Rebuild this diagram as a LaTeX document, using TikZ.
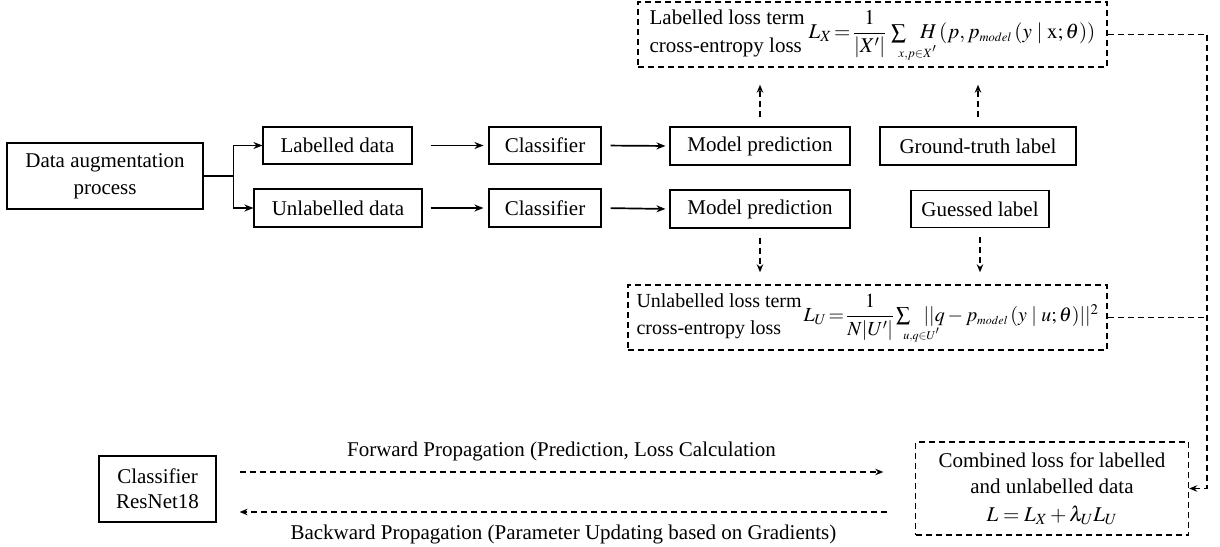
\documentclass[tikz,border=0pt]{standalone}
\usepackage{mathtools}
\usepackage{graphicx}
\usepackage{mathptmx}
\usepackage{fontspec}
\setmainfont{Liberation Serif}
\usetikzlibrary{arrows.meta,calc}
\begin{document}
\begin{tikzpicture}[x=1pt,y=-1pt,
  font=\fontsize{21}{25}\selectfont,
  box/.style={draw,line width=1.1pt,inner sep=0pt,align=center},
  dbox/.style={draw,line width=1.4pt,dash pattern=on 6pt off 4pt,inner sep=0pt},
  arr/.style={line width=1.7pt,-{Stealth[length=9pt,width=7pt]}},
  darr/.style={line width=1.5pt,dash pattern=on 6pt off 4pt,-{Stealth[length=8pt,width=6.5pt]}},
  dline/.style={line width=1.5pt,dash pattern=on 6pt off 4pt},
  lbl/.style={inner sep=0pt,anchor=base}]
\useasboundingbox (0,0) rectangle (1220,546);

% solid boxes
\node[box,minimum width=196pt,minimum height=66pt] (da) at (105,176) {Data augmentation\\[2pt]process};
\node[box,minimum width=149pt,minimum height=37pt] (lab) at (337.5,145.5) {Labelled data};
\node[box,minimum width=168pt,minimum height=38pt] (unl) at (338,208) {Unlabelled data};
\node[box,minimum width=112pt,minimum height=37pt] (cls1) at (545,145.5) {Classifier};
\node[box,minimum width=112pt,minimum height=38pt] (cls2) at (545,208) {Classifier};
\node[box,minimum width=180pt,minimum height=38pt] (mp1) at (760,146) {Model prediction};
\node[box,minimum width=180pt,minimum height=38pt] (mp2) at (760,209) {Model prediction};
\node[box,minimum width=196pt,minimum height=38pt] (gt) at (978,146) {Ground-truth label};
\node[box,minimum width=138pt,minimum height=37pt] (gs) at (980,209) {Guessed label};
\node[box,minimum width=117pt,minimum height=66pt] (res) at (157.5,489) {Classifier\\ResNet18};

% dashed loss boxes
\node[dbox,minimum width=469pt,text height=36.5pt,text depth=28.5pt] (top) at (872.5,34.5)
  {\begin{tabular}{@{}l@{}}Labelled loss term\\[3pt]cross-entropy loss\end{tabular}\hspace{4pt}%
   $L_X\!=\!\dfrac{1}{|X'|}\,\sum\limits_{\mathrlap{\scriptscriptstyle x,p\in X'}}\mkern10mu H\,(p,p_{\scriptscriptstyle model}\,(y\mid\mathrm{x};\theta))$};
\node[dbox,minimum width=479pt,text height=36.5pt,text depth=28.5pt] (low) at (867.5,317.5)
  {\scalebox{0.95}{\begin{tabular}{@{}l@{}}Unlabelled loss term\\[3pt]cross-entropy loss\end{tabular}\hspace{2pt}%
   $L_U\!=\!\dfrac{1}{N|U'|}\sum\limits_{\mathrlap{\scriptscriptstyle u,q\in U'}}\mkern10mu||q - p_{\scriptscriptstyle model}\,(y\mid u;\theta)||^2$}};
\node[dbox,align=center,minimum width=273pt,minimum height=93pt] (comb) at (1052,488.5)
  {Combined loss for labelled\\[1pt]and unlabelled data\\[3pt]$L = L_X + \lambda_U L_U$};

% branching from data augmentation
\coordinate (br) at ($(da.east)+(30,0)$);
\draw[line width=2.2pt] (da.east) -- (br);
\draw[arr] (br) |- (lab.west);
\draw[arr] (br) |- (unl.west);

% row arrows
\draw[arr,shorten <=18pt,shorten >=5pt] (lab.east) -- (cls1.west);
\draw[arr,shorten <=8pt,shorten >=5pt] (unl.east) -- (cls2.west);
\draw[arr,shorten <=9pt,shorten >=4pt] (cls1.east) -- (mp1.west);
\draw[arr,shorten <=9pt,shorten >=4pt] (cls2.east) -- (mp2.west);

% vertical dashed arrows
\draw[darr,shorten <=9pt,shorten >=17pt] (mp1.north) -- (mp1.north |- top.south);
\draw[darr,shorten <=9pt,shorten >=17pt] (gt.north) -- (gt.north |- top.south);
\draw[darr,shorten <=9pt,shorten >=12pt] (mp2.south) -- (mp2.south |- low.north);
\draw[darr,shorten <=9pt,shorten >=12pt] (gs.south) -- (gs.south |- low.north);

% right-hand connector
\coordinate (rx) at (1207,0);
\draw[darr] (top.east) -- (top.east -| rx) -- (rx |- comb.east) -- (comb.east);
\draw[dline] (low.east) -- (low.east -| rx);

% forward / backward propagation
\coordinate (f1) at ($(res.east)+(23,-17)$);
\coordinate (f2) at ($(comb.west)+(-31.5,-16.5)$);
\coordinate (b1) at ($(comb.west)+(-27.5,23.5)$);
\coordinate (b2) at ($(res.east)+(23,23)$);
\draw[darr] (f1) -- (f2);
\draw[darr] (b1) -- (b2);
\node[lbl] (fl) at ($(f1)!0.5!(f2)+(0,-16)$) {Forward Propagation (Prediction, Loss Calculation};
\node[lbl] (bl) at ($(b2)!0.5!(b1)+(0,27)$) {Backward Propagation (Parameter Updating based on Gradients)};
\end{tikzpicture}
\end{document}
